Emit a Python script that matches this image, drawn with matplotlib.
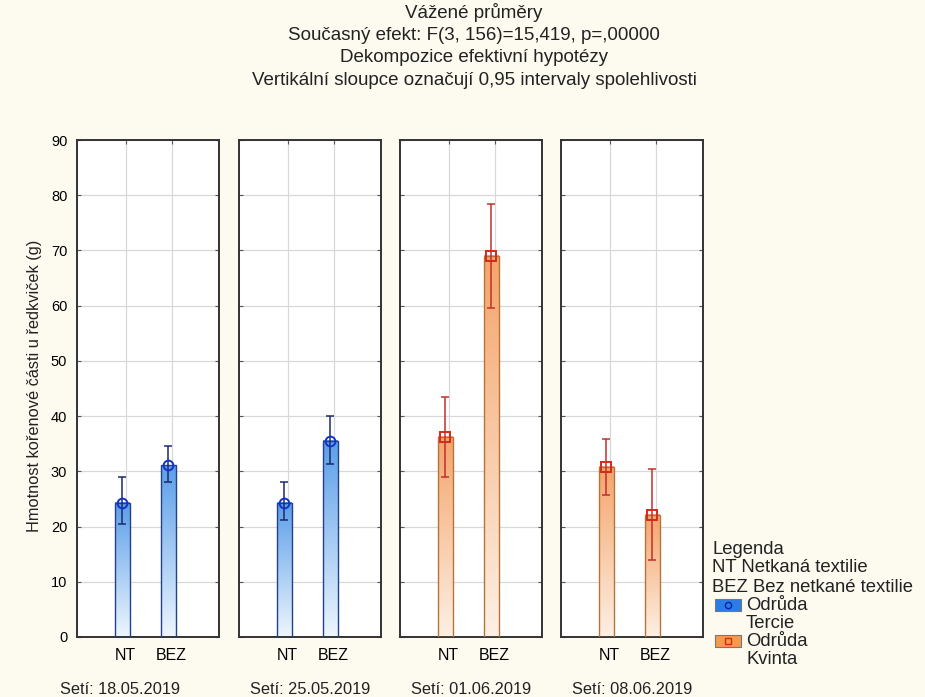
import numpy as np
import matplotlib.pyplot as plt
from matplotlib.colors import LinearSegmentedColormap
from matplotlib.patches import Rectangle

plt.rcParams['font.family'] = ['Liberation Sans', 'DejaVu Sans']

# weighted means and 0.95 confidence limits per sowing date
sowing_dates = ["18.05.2019", "25.05.2019", "01.06.2019", "08.06.2019"]
treatments = ["NT", "BEZ"]
variety = ["Tercie", "Tercie", "Kvinta", "Kvinta"]
means = [[24.3, 31.1], [24.3, 35.5], [36.3, 69.0], [30.8, 22.1]]
ci_low = [[20.4, 28.0], [21.1, 31.3], [29.0, 59.6], [25.8, 13.9]]
ci_high = [[28.9, 34.5], [28.1, 40.0], [43.4, 78.5], [35.9, 30.4]]

title_lines = [
    "Vážené průměry",
    "Současný efekt: F(3, 156)=15,419, p=,00000",
    "Dekompozice efektivní hypotézy",
    "Vertikální sloupce označují 0,95 intervaly spolehlivosti",
]

styles = {
    "Tercie": dict(top="#5a9ee8", bottom="#eef6fe", edge="#23408a",
                   err="#1c2a6e", mk="#1432c8", marker="o", patch="#2a7de8"),
    "Kvinta": dict(top="#f5a46a", bottom="#fdf0e4", edge="#b5743a",
                   err="#c0302c", mk="#d42a1e", marker="s", patch="#f39a4c"),
}

bg = "#fdfaf0"
W, H = 925, 697
fig = plt.figure(figsize=(W / 100, H / 100), dpi=100, facecolor=bg)

for i, line in enumerate(title_lines):
    fig.text(474 / W, 1 - (13 + 22.5 * i) / H, line, ha="center", va="center",
             fontsize=13.5, color="#222222")

lefts = [77, 239, 400, 561]
pw, top_px, bot_px = 142, 140, 637
bar_w, offset = 0.32, -0.07
date_centers = [120, 310, 471, 632]

for k, left in enumerate(lefts):
    ax = fig.add_axes([left / W, 1 - bot_px / H, pw / W, (bot_px - top_px) / H])
    st = styles[variety[k]]
    cmap = LinearSegmentedColormap.from_list("g", [st["bottom"], st["top"]])
    xs = np.arange(1, 3) + offset
    for x, m in zip(xs, means[k]):
        grad = np.linspace(0, 1, 256).reshape(-1, 1)
        ax.imshow(grad, extent=(x - bar_w / 2, x + bar_w / 2, 0, m), origin="lower",
                  cmap=cmap, aspect="auto", zorder=2)
        ax.add_patch(Rectangle((x - bar_w / 2, 0), bar_w, m, fill=False,
                               edgecolor=st["edge"], lw=1.0, zorder=3))
    m = np.array(means[k])
    yerr = [m - np.array(ci_low[k]), np.array(ci_high[k]) - m]
    ax.errorbar(xs, m, yerr=yerr, fmt="none", ecolor=st["err"], elinewidth=1.1,
                capsize=3, capthick=1.1, zorder=4)
    ax.plot(xs, m, ls="none", marker=st["marker"], ms=7, mfc="none",
            mec=st["mk"], mew=1.4, zorder=5)

    ax.set_xlim(-0.06, 3.03)
    ax.set_ylim(0, 90)
    ax.set_xticks([1, 2])
    ax.set_xticklabels(treatments, fontsize=11.5)
    ax.set_yticks(np.arange(0, 91, 10))
    ax.grid(True, color="#d8d8d8", lw=0.9, zorder=0)
    ax.set_axisbelow(True)
    ax.tick_params(direction="in", length=3, top=True, right=True,
                   color="#555555", labelsize=10.5, pad=7)
    ax.tick_params(axis="x", labelsize=11.5, pad=8)
    if k > 0:
        ax.tick_params(labelleft=False)
    ax.set_facecolor("white")
    for sp in ax.spines.values():
        sp.set_color("#333333")
        sp.set_linewidth(1.4)
    fig.text(date_centers[k] / W, 1 - 689 / H, "Setí: " + sowing_dates[k],
             ha="center", va="center", fontsize=11.8, color="#222222")

fig.text(35 / W, 1 - 386 / H, "Hmotnost kořenové části u ředkviček (g)",
         rotation=90, ha="center", va="center", fontsize=11.8, color="#222222")

# legend block to the right of the panels
lx = 712 / W
legend_rows = [(549, "Legenda"), (568, "NT Netkaná textilie"),
               (587, "BEZ Bez netkané textilie")]
for y, txt in legend_rows:
    fig.text(lx, 1 - y / H, txt, ha="left", va="center", fontsize=13.3, color="#222222")

for y, name in [(605, "Tercie"), (641, "Kvinta")]:
    st = styles[name]
    fig.patches.append(Rectangle((715 / W, 1 - (y + 6) / H), 26 / W, 12 / H,
                                 transform=fig.transFigure, facecolor=st["patch"],
                                 edgecolor="#777777", lw=0.8))
    fig.lines.append(plt.Line2D([728 / W], [1 - y / H], transform=fig.transFigure,
                                marker=st["marker"], ms=4.5, mfc="none",
                                mec=st["mk"] if name == "Kvinta" else "#1020a0", mew=1.0))
    fig.text(746 / W, 1 - y / H, "Odrůda", ha="left", va="center", fontsize=13.3, color="#222222")
    fig.text(746 / W, 1 - (y + 18) / H, name, ha="left", va="center", fontsize=13.3, color="#222222")

fig.savefig("out.png", dpi=100, facecolor=bg)
